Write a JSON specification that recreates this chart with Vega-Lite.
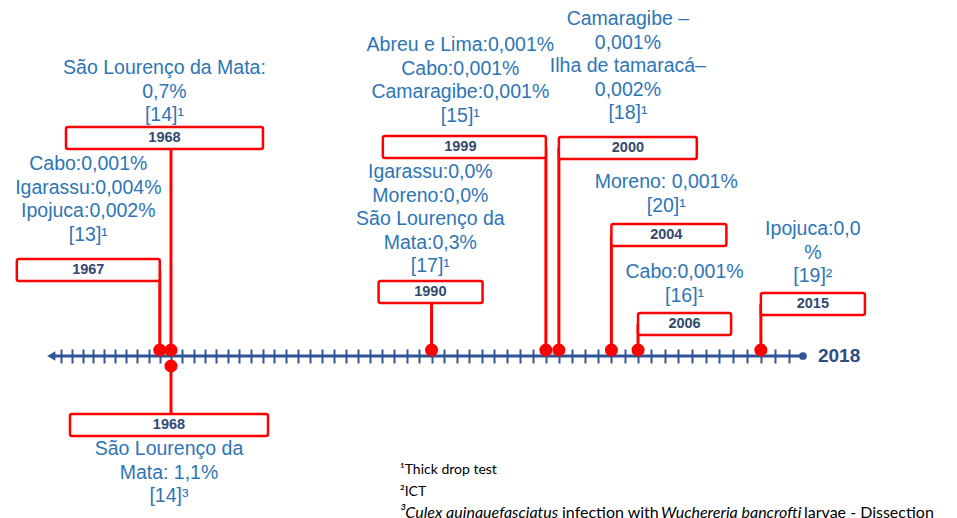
{
  "$schema": "https://vega.github.io/schema/vega-lite/v6.json",
  "width": 957,
  "height": 518,
  "padding": 0,
  "autosize": {"type": "none"},
  "background": "white",
  "config": {"view": {"stroke": null}, "axisY": {"disable": true}},
  "datasets": {
    "events": [
      {"year": 1967, "side": "above", "level": 8.6, "boxFrom": 1953.86, "boxTo": 1967, "labelAt": 1960.53, "textLevel": 19.2, "label": "Cabo:0,001%\nIgarassu:0,004%\nIpojuca:0,002%\n[13]¹"},
      {"year": 1968, "side": "above", "level": 21.8, "boxFrom": 1958.47, "boxTo": 1976.02, "labelAt": 1967.42, "textLevel": 28.8, "label": "São Lourenço da Mata:\n0,7%\n[14]¹"},
      {"year": 1968, "side": "below", "level": -6.9, "boxFrom": 1958.84, "boxTo": 1976.45, "labelAt": 1967.82, "textLevel": -9.3, "label": "São Lourenço da\nMata: 1,1%\n[14]³"},
      {"year": 1990, "side": "above", "level": 6.4, "boxFrom": 1985.7, "boxTo": 1994.06, "labelAt": 1989.9, "textLevel": 18.4, "label": "Igarassu:0,0%\nMoreno:0,0%\nSão Lourenço da\nMata:0,3%\n[17]¹"},
      {"year": 1999, "side": "above", "level": 20.9, "boxFrom": 1986.05, "boxTo": 1999, "labelAt": 1992.3, "textLevel": 31.1, "label": "Abreu e Lima:0,001%\nCabo:0,001%\nCamaragibe:0,001%\n[15]¹"},
      {"year": 2000, "side": "above", "level": 20.8, "boxFrom": 2000, "boxTo": 2010.35, "labelAt": 2005.24, "textLevel": 33.7, "label": "Camaragibe –\n0,001%\nIlha de tamaracá–\n0,002%\n[18]¹"},
      {"year": 2004, "side": "above", "level": 12.1, "boxFrom": 2004, "boxTo": 2012.51, "labelAt": 2008.1, "textLevel": 17.4, "label": "Moreno: 0,001%\n[20]¹"},
      {"year": 2006, "side": "above", "level": 3.2, "boxFrom": 2006, "boxTo": 2012.85, "labelAt": 2009.45, "textLevel": 8.4, "label": "Cabo:0,001%\n[16]¹"},
      {"year": 2015, "side": "above", "level": 5.2, "boxFrom": 2015, "boxTo": 2022.35, "labelAt": 2018.7, "textLevel": 12.7, "label": "Ipojuca:0,0\n%\n[19]²"}
    ],
    "span": [{"from": 1957.26, "to": 2018, "arrow": 1957.1}]
  },
  "layer": [
    {
      "data": {"name": "span"},
      "mark": {"type": "rule", "color": "#2f5597", "strokeWidth": 3},
      "encoding": {
        "x": {
          "field": "from", "type": "quantitative", "title": null,
          "scale": {"type": "pow", "exponent": 10, "domain": [1952.26, 2028.66], "nice": false, "zero": false},
          "axis": {
            "orient": "bottom", "offset": -169, "domain": false, "labels": false, "grid": false, "title": null,
            "ticks": true, "tickSize": 14, "tickWidth": 2, "tickColor": "#2f5597", "tickCount": 200,
            "values": [1958,1959,1960,1961,1962,1963,1964,1965,1966,1967,1968,1969,1970,1971,1972,1973,1974,1975,1976,1977,1978,1979,1980,1981,1982,1983,1984,1985,1986,1987,1988,1989,1990,1991,1992,1993,1994,1995,1996,1997,1998,1999,2000,2001,2002,2003,2004,2005,2006,2007,2008,2009,2010,2011,2012,2013,2014,2015,2016,2017]
          }
        },
        "x2": {"field": "to"},
        "y": {"datum": 0, "type": "quantitative", "scale": {"domain": [-16.2, 35.6], "nice": false, "zero": false}}
      }
    },
    {
      "data": {"name": "span"},
      "mark": {"type": "point", "shape": "triangle-left", "filled": true, "size": 90, "color": "#2f5597", "opacity": 1},
      "encoding": {"x": {"field": "arrow", "type": "quantitative"}, "y": {"datum": 0, "type": "quantitative"}}
    },
    {
      "data": {"name": "span"},
      "mark": {"type": "point", "shape": "circle", "filled": true, "size": 60, "color": "#2f5597", "opacity": 1},
      "encoding": {"x": {"field": "to", "type": "quantitative"}, "y": {"datum": 0, "type": "quantitative"}}
    },
    {
      "data": {"name": "span"},
      "mark": {"type": "text", "align": "left", "baseline": "middle", "dx": 15, "fontSize": 19, "fontWeight": "bold", "font": "Liberation Sans", "color": "#2e4d85"},
      "encoding": {"x": {"field": "to", "type": "quantitative"}, "y": {"datum": 0, "type": "quantitative"}, "text": {"field": "to", "type": "quantitative", "format": "d"}}
    },
    {
      "data": {"name": "events"},
      "transform": [{"filter": "datum.side == 'above'"}],
      "mark": {"type": "rule", "color": "#ff0000", "strokeWidth": 3},
      "encoding": {"x": {"field": "year", "type": "quantitative"}, "y": {"field": "level", "type": "quantitative"}, "y2": {"datum": 0.6}}
    },
    {
      "data": {"name": "events"},
      "transform": [{"filter": "datum.side == 'below'"}],
      "mark": {"type": "rule", "color": "#ff0000", "strokeWidth": 3},
      "encoding": {"x": {"field": "year", "type": "quantitative"}, "y": {"field": "level", "type": "quantitative"}, "y2": {"datum": -1.0}}
    },
    {
      "data": {"name": "events"},
      "mark": {"type": "rect", "fill": "white", "stroke": "#ff0000", "strokeWidth": 2.5, "cornerRadius": 2, "height": 22},
      "encoding": {"x": {"field": "boxFrom", "type": "quantitative"}, "x2": {"field": "boxTo"}, "y": {"field": "level", "type": "quantitative"}}
    },
    {
      "data": {"name": "events"},
      "mark": {"type": "text", "align": "center", "baseline": "middle", "fontSize": 14.5, "fontWeight": "bold", "font": "Liberation Sans", "color": "#33486e"},
      "encoding": {"x": {"field": "labelAt", "type": "quantitative"}, "y": {"field": "level", "type": "quantitative"}, "text": {"field": "year", "type": "quantitative", "format": "d"}}
    },
    {
      "data": {"name": "events"},
      "transform": [{"filter": "datum.side == 'above'"}],
      "mark": {"type": "point", "shape": "circle", "filled": true, "size": 170, "color": "#ff0000", "opacity": 1},
      "encoding": {"x": {"field": "year", "type": "quantitative"}, "y": {"datum": 0.6, "type": "quantitative"}}
    },
    {
      "data": {"name": "events"},
      "transform": [{"filter": "datum.side == 'below'"}],
      "mark": {"type": "point", "shape": "circle", "filled": true, "size": 170, "color": "#ff0000", "opacity": 1},
      "encoding": {"x": {"field": "year", "type": "quantitative"}, "y": {"datum": -1.0, "type": "quantitative"}}
    },
    {
      "data": {"name": "events"},
      "mark": {"type": "text", "align": "center", "baseline": "middle", "lineBreak": "\n", "lineHeight": 23.6, "fontSize": 19.5, "font": "Liberation Sans", "color": "#2e75b6"},
      "encoding": {"x": {"field": "labelAt", "type": "quantitative"}, "y": {"field": "textLevel", "type": "quantitative"}, "text": {"field": "label"}}
    },
    {
      "data": {"values": [{"note": "¹Thick drop test\n²ICT"}]},
      "mark": {"type": "text", "align": "left", "baseline": "alphabetic", "lineBreak": "\n", "lineHeight": 22, "fontSize": 14, "font": "Lato", "color": "black"},
      "encoding": {"x": {"datum": 1987.45, "type": "quantitative"}, "y": {"datum": -11.8, "type": "quantitative"}, "text": {"field": "note"}}
    },
    {
      "data": {"values": [{"note": "³Culex quinquefasciatus"}]},
      "mark": {"type": "text", "align": "left", "baseline": "alphabetic", "fontSize": 16, "fontStyle": "italic", "font": "Lato", "color": "black"},
      "encoding": {"x": {"datum": 1987.45, "type": "quantitative"}, "y": {"datum": -16.2, "type": "quantitative"}, "text": {"field": "note"}}
    },
    {
      "data": {"values": [{"note": "infection with"}]},
      "mark": {"type": "text", "align": "left", "baseline": "alphabetic", "dx": 162, "fontSize": 16, "font": "Lato", "color": "black"},
      "encoding": {"x": {"datum": 1987.45, "type": "quantitative"}, "y": {"datum": -16.2, "type": "quantitative"}, "text": {"field": "note"}}
    },
    {
      "data": {"values": [{"note": "Wuchereria bancrofti"}]},
      "mark": {"type": "text", "align": "left", "baseline": "alphabetic", "dx": 261, "fontSize": 16, "fontStyle": "italic", "font": "Lato", "color": "black"},
      "encoding": {"x": {"datum": 1987.45, "type": "quantitative"}, "y": {"datum": -16.2, "type": "quantitative"}, "text": {"field": "note"}}
    },
    {
      "data": {"values": [{"note": "larvae - Dissection"}]},
      "mark": {"type": "text", "align": "left", "baseline": "alphabetic", "dx": 404, "fontSize": 16, "font": "Lato", "color": "black"},
      "encoding": {"x": {"datum": 1987.45, "type": "quantitative"}, "y": {"datum": -16.2, "type": "quantitative"}, "text": {"field": "note"}}
    }
  ]
}
